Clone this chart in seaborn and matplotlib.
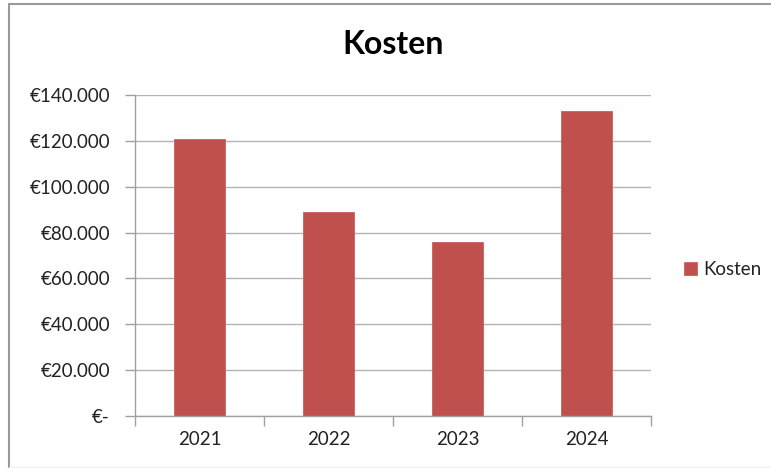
import matplotlib
matplotlib.use("Agg")
import matplotlib.pyplot as plt
import seaborn as sns
import pandas as pd
from matplotlib.ticker import FuncFormatter, FixedLocator
from matplotlib.lines import Line2D

years = ["2021", "2022", "2023", "2024"]
kosten = [121000, 89000, 76000, 133000]
series_name = "Kosten"
title = "Kosten"

df = pd.DataFrame({"Jaar": years, series_name: kosten})

sns.set_theme(style="white")
plt.rcParams["font.family"] = ["Lato", "DejaVu Sans"]

fig = plt.figure(figsize=(7.71, 4.68), dpi=100)
ax = fig.add_axes([135/771, 1-416/468, (651-135)/771, (416-95)/468])

sns.barplot(data=df, x="Jaar", y=series_name, color="#C0504D", width=0.4,
            saturation=1, label=series_name, ax=ax, edgecolor="#C9605D", linewidth=0.6)

ax.set_xlim(-0.5, 3.5)
ax.set_ylim(0, 140000)
ax.set_yticks(range(0, 140001, 20000))
ax.yaxis.set_major_formatter(FuncFormatter(
    lambda v, p: "€-" if v == 0 else "€" + f"{v:,.0f}".replace(",", ".")))
ax.grid(axis="y", color="#B3B3B3", linewidth=1.0)
ax.set_axisbelow(True)
ax.set_xlabel("")
ax.set_ylabel("")

for s in ["top", "right"]:
    ax.spines[s].set_visible(False)
for s in ["left", "bottom"]:
    ax.spines[s].set_color("#A0A0A0")
    ax.spines[s].set_linewidth(1.0)

ax.tick_params(axis="y", which="major", length=7, width=1, color="#A0A0A0",
               labelsize=13.5, labelcolor="#222222", pad=11, left=True)
ax.tick_params(axis="x", which="major", length=0, labelsize=13.5,
               labelcolor="#222222", pad=11)
ax.xaxis.set_minor_locator(FixedLocator([-0.5, 0.5, 1.5, 2.5, 3.5]))
ax.tick_params(axis="x", which="minor", length=7, width=1, color="#A0A0A0",
               bottom=True)

fig.text(393/771, 1-45/468, title, fontsize=23, fontweight="bold",
         color="#000000", ha="center", va="center")

leg = ax.legend(loc="center left", bbox_to_anchor=(1.05, 0.455), frameon=False,
                fontsize=13.5, handlelength=0.7, handleheight=0.7,
                handletextpad=0.3, borderaxespad=0)
for t in leg.get_texts():
    t.set_color("#222222")

# outer chart frame (top and left edges visible in screenshot)
fig.add_artist(Line2D([9/771, 9/771], [0, 1-4/468], transform=fig.transFigure,
                      color="#9A9A9A", linewidth=1.5))
fig.add_artist(Line2D([9/771, 1], [1-4/468, 1-4/468], transform=fig.transFigure,
                      color="#9A9A9A", linewidth=1.5))
fig.add_artist(Line2D([9/771, 1], [1/468, 1/468], transform=fig.transFigure,
                      color="#EEEEEE", linewidth=1.0))

fig.savefig("out.png", dpi=100)
